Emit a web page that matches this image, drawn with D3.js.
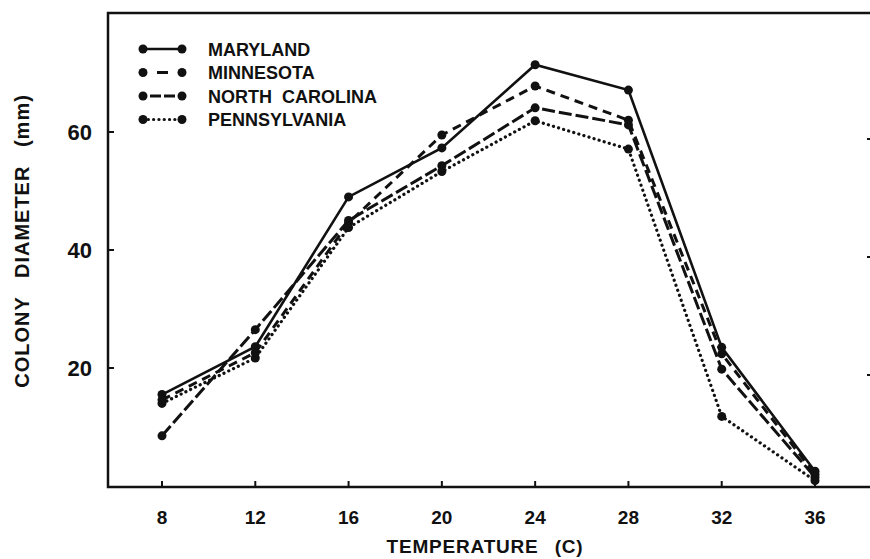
<!DOCTYPE html>
<meta charset="utf-8">
<script src="https://d3js.org/d3.v7.min.js"></script>
<style>
body { margin: 0; background: #fff; }
text {
  fill: #111;
  font-family: "Liberation Sans", Arial, sans-serif;
  font-weight: bold;
}
.frame { fill: none; stroke: #111; stroke-width: 2.5px; }
.series { fill: none; stroke: #111; }
</style>
<body>
<script>
var width = 870,
    height = 559;

// temperatures (C)
var temps = [8, 12, 16, 20, 24, 28, 32, 36];
var xTicks = [8, 12, 16, 20, 24, 28, 32, 36];
var yTicks = [20, 40, 60];

// colony diameter (mm)
var maryland      = [15.5, 23.6, 49.0, 57.3, 71.4, 67.1, 23.5, 2.5];
var minnesota     = [14.6, 22.6, 44.6, 59.5, 67.8, 62.0, 22.4, 2.0];
var northCarolina = [ 8.5, 26.5, 45.0, 54.3, 64.1, 61.2, 19.8, 1.5];
var pennsylvania  = [14.0, 21.7, 43.8, 53.3, 61.9, 57.1, 11.8, 0.9];

var names = ["MARYLAND", "MINNESOTA", "NORTH  CAROLINA", "PENNSYLVANIA"];
var dashes = ["none", "9,6", "13,4", "0.1,5.2"];
var legendDashes = ["none", "0,14,11,14", "0,7,11,3,11,7", "0.1,5.2"];
var widths = [2.6, 3, 3, 3.2];

var series = [maryland, minnesota, northCarolina, pennsylvania].map(function(vals, i) {
  return {name: names[i], dash: dashes[i], ldash: legendDashes[i], w: widths[i],
          values: vals.map(function(v, j) { return {t: temps[j], v: v}; })};
});

var x = d3.scaleLinear().domain([8, 36]).range([162, 815]);
var y = d3.scaleLinear().domain([0, 80]).range([486, 14]);

// frame edges (right edge sits just past the window)
var fLeft = 108, fRight = 874, fTop = 13, fBottom = 487;

var svg = d3.select("body").append("svg")
    .attr("width", width)
    .attr("height", height);

// frame
svg.append("path")
    .attr("class", "frame")
    .attr("d", "M" + fLeft + "," + fTop + "V" + fBottom + "H" + fRight + "V" + fTop + "Z");

// x ticks (inward)
svg.append("g").selectAll("line")
  .data(xTicks)
  .enter().append("line")
    .attr("x1", function(d) { return x(d); })
    .attr("x2", function(d) { return x(d); })
    .attr("y1", fBottom)
    .attr("y2", fBottom - 6)
    .attr("stroke", "#111")
    .attr("stroke-width", 2);

svg.append("g").selectAll("text")
  .data(xTicks)
  .enter().append("text")
    .attr("x", function(d) { return x(d); })
    .attr("y", 524)
    .attr("text-anchor", "middle")
    .attr("font-size", 19)
    .text(function(d) { return d; });

// y ticks (inward, both sides)
svg.append("g").selectAll("line")
  .data(yTicks)
  .enter().append("line")
    .attr("x1", fLeft)
    .attr("x2", fLeft + 6)
    .attr("y1", function(d) { return y(d); })
    .attr("y2", function(d) { return y(d); })
    .attr("stroke", "#111")
    .attr("stroke-width", 2);

svg.append("g").selectAll("line")
  .data(yTicks)
  .enter().append("line")
    .attr("x1", fRight)
    .attr("x2", fRight - 7)
    .attr("y1", function(d) { return y(d) + 7; })
    .attr("y2", function(d) { return y(d) + 7; })
    .attr("stroke", "#111")
    .attr("stroke-width", 2);

svg.append("g").selectAll("text")
  .data(yTicks)
  .enter().append("text")
    .attr("x", 92)
    .attr("y", function(d) { return y(d) + 8; })
    .attr("text-anchor", "end")
    .attr("font-size", 22)
    .text(function(d) { return d; });

// axis titles
svg.append("text")
    .attr("x", 485)
    .attr("y", 553)
    .attr("text-anchor", "middle")
    .attr("font-size", 19)
    .style("letter-spacing", "0.8px")
    .style("word-spacing", "10px")
    .text("TEMPERATURE (C)");

svg.append("text")
    .attr("transform", "translate(29,241)rotate(-90)")
    .attr("text-anchor", "middle")
    .attr("font-size", 20)
    .style("letter-spacing", "1px")
    .style("word-spacing", "12px")
    .text("COLONY DIAMETER (mm)");

// lines
var line = d3.line()
    .x(function(d) { return x(d.t); })
    .y(function(d) { return y(d.v); });

var g = svg.selectAll(".s")
  .data(series)
  .enter().append("g");

g.append("path")
    .attr("class", "series")
    .attr("d", function(d) { return line(d.values); })
    .attr("stroke-width", function(d) { return d.w; })
    .attr("stroke-dasharray", function(d) { return d.dash; })
    .attr("stroke-linecap", function(d, i) { return i == 3 ? "round" : "butt"; });

g.selectAll("circle")
  .data(function(d) { return d.values; })
  .enter().append("circle")
    .attr("cx", function(d) { return x(d.t); })
    .attr("cy", function(d) { return y(d.v); })
    .attr("r", 4.5)
    .attr("fill", "#111");

// legend
var legend = svg.append("g").selectAll("g")
  .data(series)
  .enter().append("g")
    .attr("transform", function(d, i) { return "translate(0," + (49 + i * 23.5) + ")"; });

legend.append("line")
    .attr("x1", 143).attr("x2", 182)
    .attr("y1", 0).attr("y2", 0)
    .attr("stroke", "#111")
    .attr("stroke-width", function(d) { return d.w; })
    .attr("stroke-dasharray", function(d) { return d.ldash; })
    .attr("stroke-linecap", function(d, i) { return i == 3 ? "round" : "butt"; });

legend.selectAll("circle")
  .data([143, 182])
  .enter().append("circle")
    .attr("cx", function(d) { return d; })
    .attr("cy", 0)
    .attr("r", 4.5)
    .attr("fill", "#111");

legend.append("text")
    .attr("x", 208)
    .attr("y", 6.5)
    .attr("font-size", 18)
    .style("white-space", "pre")
    .text(function(d) { return d.name; });
</script>
</body>
